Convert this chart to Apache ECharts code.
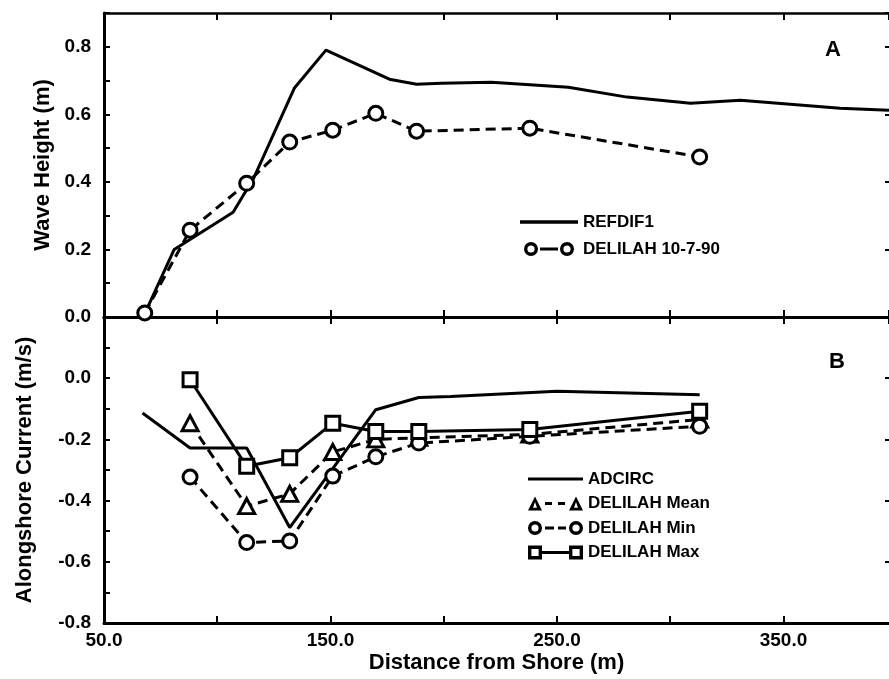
<!DOCTYPE html>
<html>
<head>
<meta charset="utf-8">
<script src="https://cdn.jsdelivr.net/npm/echarts@6/dist/echarts.min.js"></script>
<style>html,body{margin:0;padding:0;background:#fff;}#c{width:889px;height:679px;}</style>
</head>
<body>
<div id="c"></div>
<script>
// ---------- Data ----------
// Panel A: wave height (m)
const refdifX = [68, 81, 107, 116, 134, 148, 176, 188, 199, 221, 255, 281, 309, 331, 375, 396.6];
const refdifY = [0.01, 0.20, 0.31, 0.41, 0.677, 0.79, 0.704, 0.689, 0.692, 0.695, 0.68, 0.651, 0.633, 0.642, 0.618, 0.612];
const delilahWaveX = [68, 88, 113, 132, 151, 170, 188, 238, 313];
const delilahWaveY = [0.012, 0.257, 0.396, 0.518, 0.553, 0.603, 0.55, 0.559, 0.474];
// Panel B: alongshore current (m/s)
const adcircX = [67, 88, 113, 132, 170, 189, 203, 250, 313];
const adcircY = [-0.114, -0.228, -0.228, -0.488, -0.103, -0.063, -0.06, -0.043, -0.054];
const delilahX = [88, 113, 132, 151, 170, 189, 238, 313];
const meanY = [-0.147, -0.418, -0.378, -0.241, -0.20, -0.195, -0.184, -0.135];
const minY = [-0.323, -0.537, -0.532, -0.32, -0.257, -0.212, -0.19, -0.157];
const maxY = [-0.005, -0.288, -0.26, -0.147, -0.174, -0.174, -0.168, -0.108];
// Tick labels
const xTickLabels = [50, 150, 250, 350];
const yTickLabelsA = [0.0, 0.2, 0.4, 0.6, 0.8];
const yTickLabelsB = [-0.8, -0.6, -0.4, -0.2, 0.0];
const X_MIN = 50, X_MAX = 396.6;

// ---------- helpers ----------
const FONT = "'Liberation Sans', Arial, Helvetica, sans-serif";
const pair = (xs, ys) => xs.map((x, i) => [x, ys[i]]);
function ring(cx, cy, r1, r2) {
  return `M${cx - r1},${cy} A${r1},${r1} 0 1,1 ${cx + r1},${cy} A${r1},${r1} 0 1,1 ${cx - r1},${cy} Z ` +
         `M${cx - r2},${cy} A${r2},${r2} 0 1,0 ${cx + r2},${cy} A${r2},${r2} 0 1,0 ${cx - r2},${cy} Z `;
}
function tri(cx, w, h, t) {
  const top = 0, bot = h;
  return `M${cx},${top} L${cx + w / 2},${bot} L${cx - w / 2},${bot} Z ` +
         `M${cx},${top + t * 2} L${cx - w / 2 + t * 1.8},${bot - t} L${cx + w / 2 - t * 1.8},${bot - t} Z `;
}
function sq(x0, s, t) {
  return `M${x0},0 L${x0 + s},0 L${x0 + s},${s} L${x0},${s} Z ` +
         `M${x0 + t},${t} L${x0 + t},${s - t} L${x0 + s - t},${s - t} L${x0 + s - t},${t} Z `;
}
function bar(x0, x1, cy, th) {
  return `M${x0},${cy - th / 2} L${x1},${cy - th / 2} L${x1},${cy + th / 2} L${x0},${cy + th / 2} Z `;
}
const iconLineA = 'path://' + bar(0, 50, 7, 3);
const iconCircA = 'path://' + ring(7, 7, 7, 3.6) + bar(16, 34, 7, 3.2) + ring(43, 7, 7, 3.6);
const iconLineB = 'path://' + bar(0, 55, 7, 3);
const iconTriB = 'path://' + tri(7, 14, 14, 2.8) + bar(17, 24, 7, 3.2) + bar(30, 37, 7, 3.2) + tri(48, 14, 14, 2.8);
const iconCircB = 'path://' + ring(7, 7, 7, 3.6) + bar(17, 26, 7, 3.2) + bar(30, 38, 7, 3.2) + ring(48, 7, 7, 3.6);
const iconSqB = 'path://' + sq(0, 14, 3.4) + bar(14, 41, 7, 3) + sq(41, 14, 3.4);

const markerStyle = { color: '#fff', borderColor: '#000', borderWidth: 3 };
const solid = { color: '#000', width: 3, type: 'solid' };
const dashed = { color: '#000', width: 3, type: [10, 6] };

function xAxisDef(grid, pos, showLabels, lineW) {
  return {
    type: 'value', gridIndex: grid, position: pos, min: X_MIN, max: X_MAX, interval: 50,
    axisLine: { show: true, onZero: false, lineStyle: { color: '#000', width: lineW } },
    axisTick: { show: true, inside: true, length: 7, lineStyle: { color: '#000', width: 2 } },
    splitLine: { show: false },
    axisLabel: {
      show: showLabels, margin: 8, color: '#000', fontSize: 19, fontWeight: 'bold', fontFamily: FONT,
      showMaxLabel: false,
      formatter: v => xTickLabels.includes(Math.round(v)) && Math.abs(v - Math.round(v)) < 1e-6 ? Math.round(v).toFixed(1) : ''
    },
    name: showLabels ? 'Distance from Shore (m)' : '',
    nameLocation: 'middle', nameGap: 29,
    nameTextStyle: { color: '#000', fontSize: 22, fontWeight: 'bold', fontFamily: FONT }
  };
}
function yAxisLeft(grid, min, max, labels, name, gap) {
  return {
    type: 'value', gridIndex: grid, position: 'left', min: min, max: max, interval: 0.1,
    axisLine: { show: true, onZero: false, lineStyle: { color: '#000', width: 3 } },
    axisTick: { show: true, inside: true, length: 6, lineStyle: { color: '#000', width: 2 } },
    splitLine: { show: false },
    axisLabel: {
      margin: 13, color: '#000', fontSize: 19, fontWeight: 'bold', fontFamily: FONT,
      formatter: v => {
        const t = Math.round(v * 10) / 10;
        const hit = labels.find(l => Math.abs(l - t) < 1e-6);
        return hit !== undefined ? (hit < 0 ? '-' : '') + Math.abs(hit).toFixed(1) : '';
      }
    },
    name: name, nameLocation: 'middle', nameGap: gap,
    nameTextStyle: { color: '#000', fontSize: 22, fontWeight: 'bold', fontFamily: FONT }
  };
}
function yAxisRight(grid, min, max) {
  return {
    type: 'value', gridIndex: grid, position: 'right', min: min, max: max, interval: 0.2,
    axisLine: { show: false },
    axisTick: { show: true, inside: true, length: 4, lineStyle: { color: '#000', width: 2 } },
    axisLabel: { show: false }, splitLine: { show: false }
  };
}

const legendText = { color: '#000', fontSize: 17, fontWeight: 'bold', fontFamily: FONT, lineHeight: 18 };

const option = {
  backgroundColor: '#fff',
  animation: false,
  title: [
    { text: 'A', left: 820, top: 34, textStyle: { color: '#000', fontSize: 22, fontWeight: 'bold', fontFamily: FONT } },
    { text: 'B', left: 824, top: 346, textStyle: { color: '#000', fontSize: 22, fontWeight: 'bold', fontFamily: FONT } }
  ],
  grid: [
    { left: 104, top: 13, right: 0, height: 304 },
    { left: 104, top: 317, right: 0, height: 306 }
  ],
  legend: [
    {
      orient: 'vertical', left: 515, top: 208, itemWidth: 58, itemHeight: 14, itemGap: 9,
      selectedMode: false, textStyle: legendText, symbolKeepAspect: true,
      itemStyle: { color: '#000', borderWidth: 0 },
      data: [{ name: 'REFDIF1', icon: iconLineA }, { name: 'DELILAH 10-7-90', icon: iconCircA }]
    },
    {
      orient: 'vertical', left: 523, top: 465, itemWidth: 55, itemHeight: 14, itemGap: 6.5,
      selectedMode: false, textStyle: legendText, symbolKeepAspect: true,
      itemStyle: { color: '#000', borderWidth: 0 },
      data: [{ name: 'ADCIRC', icon: iconLineB }, { name: 'DELILAH Mean', icon: iconTriB },
             { name: 'DELILAH Min', icon: iconCircB }, { name: 'DELILAH Max', icon: iconSqB }]
    }
  ],
  xAxis: [
    xAxisDef(0, 'bottom', false, 3),
    xAxisDef(0, 'top', false, 2.5),
    xAxisDef(1, 'bottom', true, 3),
    xAxisDef(1, 'top', false, 3)
  ],
  yAxis: [
    yAxisLeft(0, 0, 0.9, yTickLabelsA, 'Wave Height (m)', 50),
    yAxisLeft(1, -0.8, 0.2, yTickLabelsB, 'Alongshore Current (m/s)', 68),
    yAxisRight(0, 0, 0.9),
    yAxisRight(1, -0.8, 0.2)
  ],
  series: [
    { name: 'REFDIF1', type: 'line', xAxisIndex: 0, yAxisIndex: 0, data: pair(refdifX, refdifY),
      showSymbol: false, symbol: 'none', lineStyle: solid, itemStyle: { color: '#000' }, z: 3 },
    { name: 'DELILAH 10-7-90', type: 'line', xAxisIndex: 0, yAxisIndex: 0, data: pair(delilahWaveX, delilahWaveY),
      symbol: 'circle', symbolSize: 14, lineStyle: dashed, itemStyle: markerStyle, clip: false, z: 4 },
    { name: 'ADCIRC', type: 'line', xAxisIndex: 2, yAxisIndex: 1, data: pair(adcircX, adcircY),
      showSymbol: false, symbol: 'none', lineStyle: solid, itemStyle: { color: '#000' }, z: 3 },
    { name: 'DELILAH Mean', type: 'line', xAxisIndex: 2, yAxisIndex: 1, data: pair(delilahX, meanY),
      symbol: 'triangle', symbolSize: [16, 15], lineStyle: dashed, itemStyle: markerStyle, z: 4 },
    { name: 'DELILAH Min', type: 'line', xAxisIndex: 2, yAxisIndex: 1, data: pair(delilahX, minY),
      symbol: 'circle', symbolSize: 14, lineStyle: dashed, itemStyle: markerStyle, z: 4 },
    { name: 'DELILAH Max', type: 'line', xAxisIndex: 2, yAxisIndex: 1, data: pair(delilahX, maxY),
      symbol: 'rect', symbolSize: 14, lineStyle: solid, itemStyle: markerStyle, clip: false, z: 5 }
  ]
};

const chart = echarts.init(document.getElementById('c'), null, { renderer: 'canvas' });
chart.setOption(option);
</script>
</body>
</html>
